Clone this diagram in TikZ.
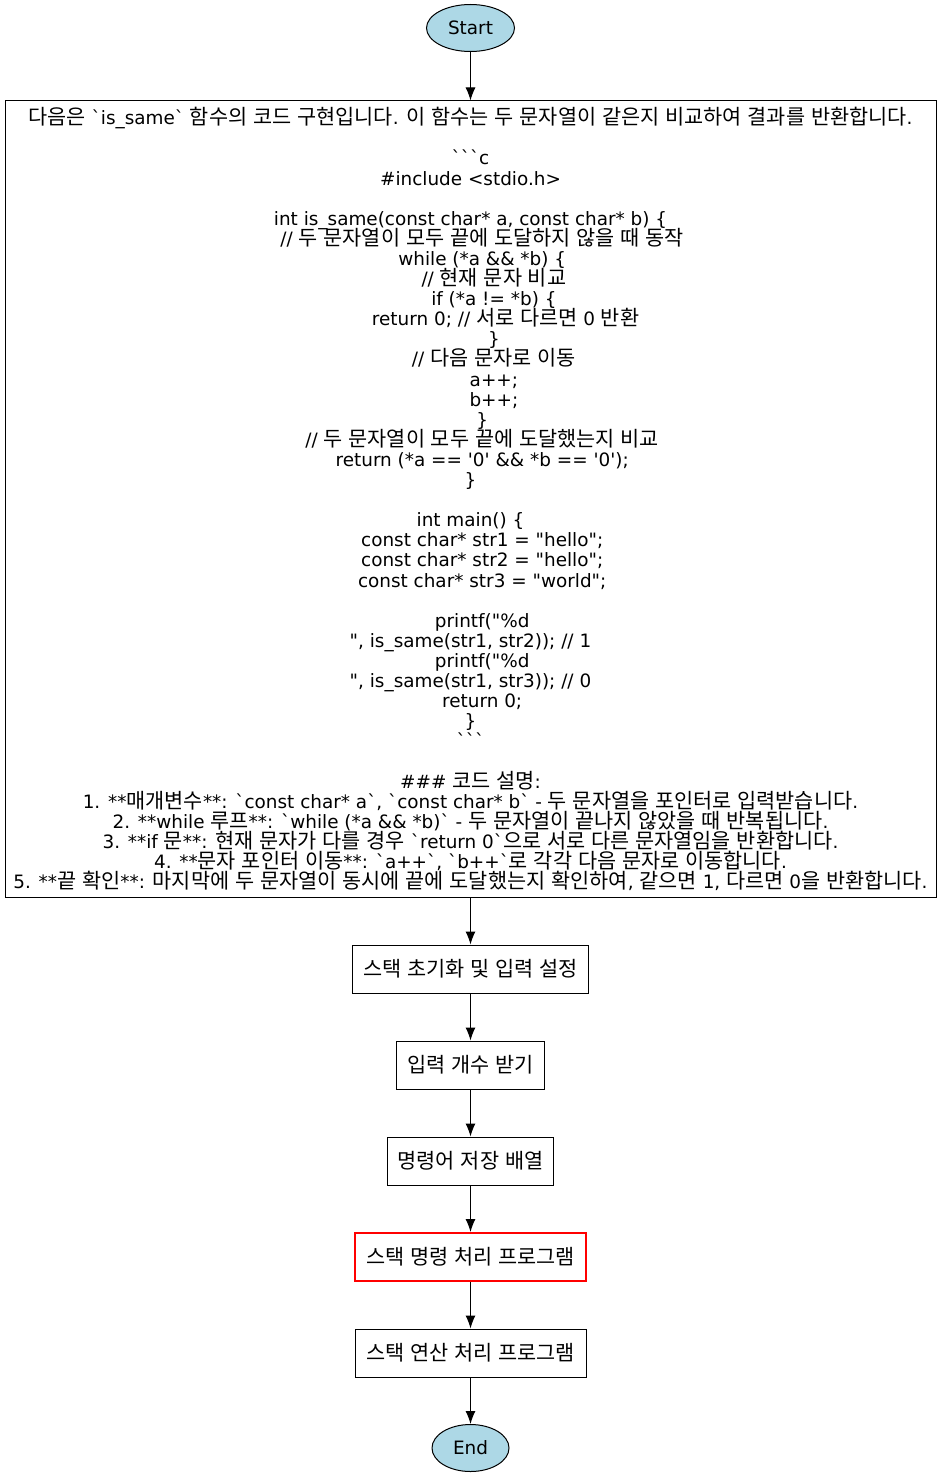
\documentclass[tikz,border=0pt]{standalone}
\usepackage{fontspec}
\setmainfont{DejaVu Sans}[Ligatures=TeXOff]
\newfontfamily\kofont{Noto Sans CJK KR}[Scale=1.13]
\usetikzlibrary{shapes.geometric}
\usetikzlibrary{arrows.meta}
\definecolor{termbg}{HTML}{ADD8E6}
\definecolor{hilite}{HTML}{FF0000}

% hangul gets the korean font
\XeTeXinterchartokenstate=1
\newXeTeXintercharclass\hangulclass
\newcount\hcode
\hcode="AC00
\loop
  \XeTeXcharclass\hcode=\hangulclass
  \advance\hcode by 1
\ifnum\hcode<"D7A4 \repeat
\XeTeXinterchartoks 0 \hangulclass = {\begingroup\kofont}
\XeTeXinterchartoks 4095 \hangulclass = {\begingroup\kofont}
\XeTeXinterchartoks \hangulclass 0 = {\endgroup}
\XeTeXinterchartoks \hangulclass 4095 = {\endgroup}

\newcommand\ind[1]{\hspace*{#1\fontdimen2\font}}
\newcommand\labelfont{\fontsize{18.4}{20.1}\selectfont\lineskiplimit=-100pt\relax}

\begin{document}
\begin{tikzpicture}[x=1pt,y=-1pt,
  -{Latex[length=13pt,width=10pt]}, line width=1pt,
  font=\labelfont,
terminal/.style = {
  ellipse, draw, fill=termbg, minimum width=88pt, minimum height=47pt, inner sep=0pt
},
stepbox/.style = {
  rectangle, draw, minimum height=48pt, inner sep=0pt
},
codebox/.style = {
  rectangle, draw, align=center, minimum width=931pt, minimum height=796pt, inner sep=0pt
}
]
\useasboundingbox (0,0) rectangle (941,1479);

\node [terminal] (start) at (470.5,28) {Start};

\node [codebox] (code) at (470.5,499) {%
다음은 `is\_same` 함수의 코드 구현입니다. 이 함수는 두 문자열이 같은지 비교하여 결과를 반환합니다.\\[20.1pt]
```c\\
\#include <stdio.h>\\[20.1pt]
int is\_same(const char* a, const char* b) \{\\
\ind{4}// 두 문자열이 모두 끝에 도달하지 않을 때 동작\\
\ind{4}while (*a \&\& *b) \{\\
\ind{8}// 현재 문자 비교\\
\ind{8}if (*a != *b) \{\\
\ind{12}return 0; // 서로 다르면 0 반환\\
\ind{8}\}\\
\ind{8}// 다음 문자로 이동\\
\ind{8}a++;\\
\ind{8}b++;\\
\ind{4}\}\\
\ind{4}// 두 문자열이 모두 끝에 도달했는지 비교\\
\ind{4}return (*a == '0' \&\& *b == '0');\\
\}\\[20.1pt]
int main() \{\\
\ind{4}const char* str1 = "hello";\\
\ind{4}const char* str2 = "hello";\\
\ind{4}const char* str3 = "world";\\[20.1pt]
\ind{4}printf("\%d\\
", is\_same(str1, str2)); // 1\\
\ind{4}printf("\%d\\
", is\_same(str1, str3)); // 0\\
\ind{4}return 0;\\
\}\\
```\\[20.1pt]
\#\#\# 코드 설명:\\
1. **매개변수**: `const char* a`, `const char* b` - 두 문자열을 포인터로 입력받습니다.\\
2. **while 루프**: `while (*a \&\& *b)` - 두 문자열이 끝나지 않았을 때 반복됩니다.\\
3. **if 문**: 현재 문자가 다를 경우 `return 0`으로 서로 다른 문자열임을 반환합니다.\\
4. **문자 포인터 이동**: `a++`, `b++`로 각각 다음 문자로 이동합니다.\\
5. **끝 확인**: 마지막에 두 문자열이 동시에 끝에 도달했는지 확인하여, 같으면 1, 다르면 0을 반환합니다.};

\node [stepbox, minimum width=236pt] (init) at (470.5,969) {스택 초기화 및 입력 설정};
\node [stepbox, minimum width=148pt] (count) at (470.5,1065) {입력 개수 받기};
\node [stepbox, minimum width=166pt] (store) at (470.5,1161) {명령어 저장 배열};
\node [stepbox, minimum width=231pt, draw=hilite, line width=2pt] (cmdproc) at (470.5,1257) {스택 명령 처리 프로그램};
\node [stepbox, minimum width=231pt] (opproc) at (470.5,1353) {스택 연산 처리 프로그램};
\node [terminal, minimum width=77pt] (end) at (470.5,1448) {End};

\draw (start) -- (code);
\draw (code) -- (init);
\draw (init) -- (count);
\draw (count) -- (store);
\draw (store) -- (cmdproc);
\draw (cmdproc) -- (opproc);
\draw (opproc) -- (end);

\end{tikzpicture}
\end{document}
